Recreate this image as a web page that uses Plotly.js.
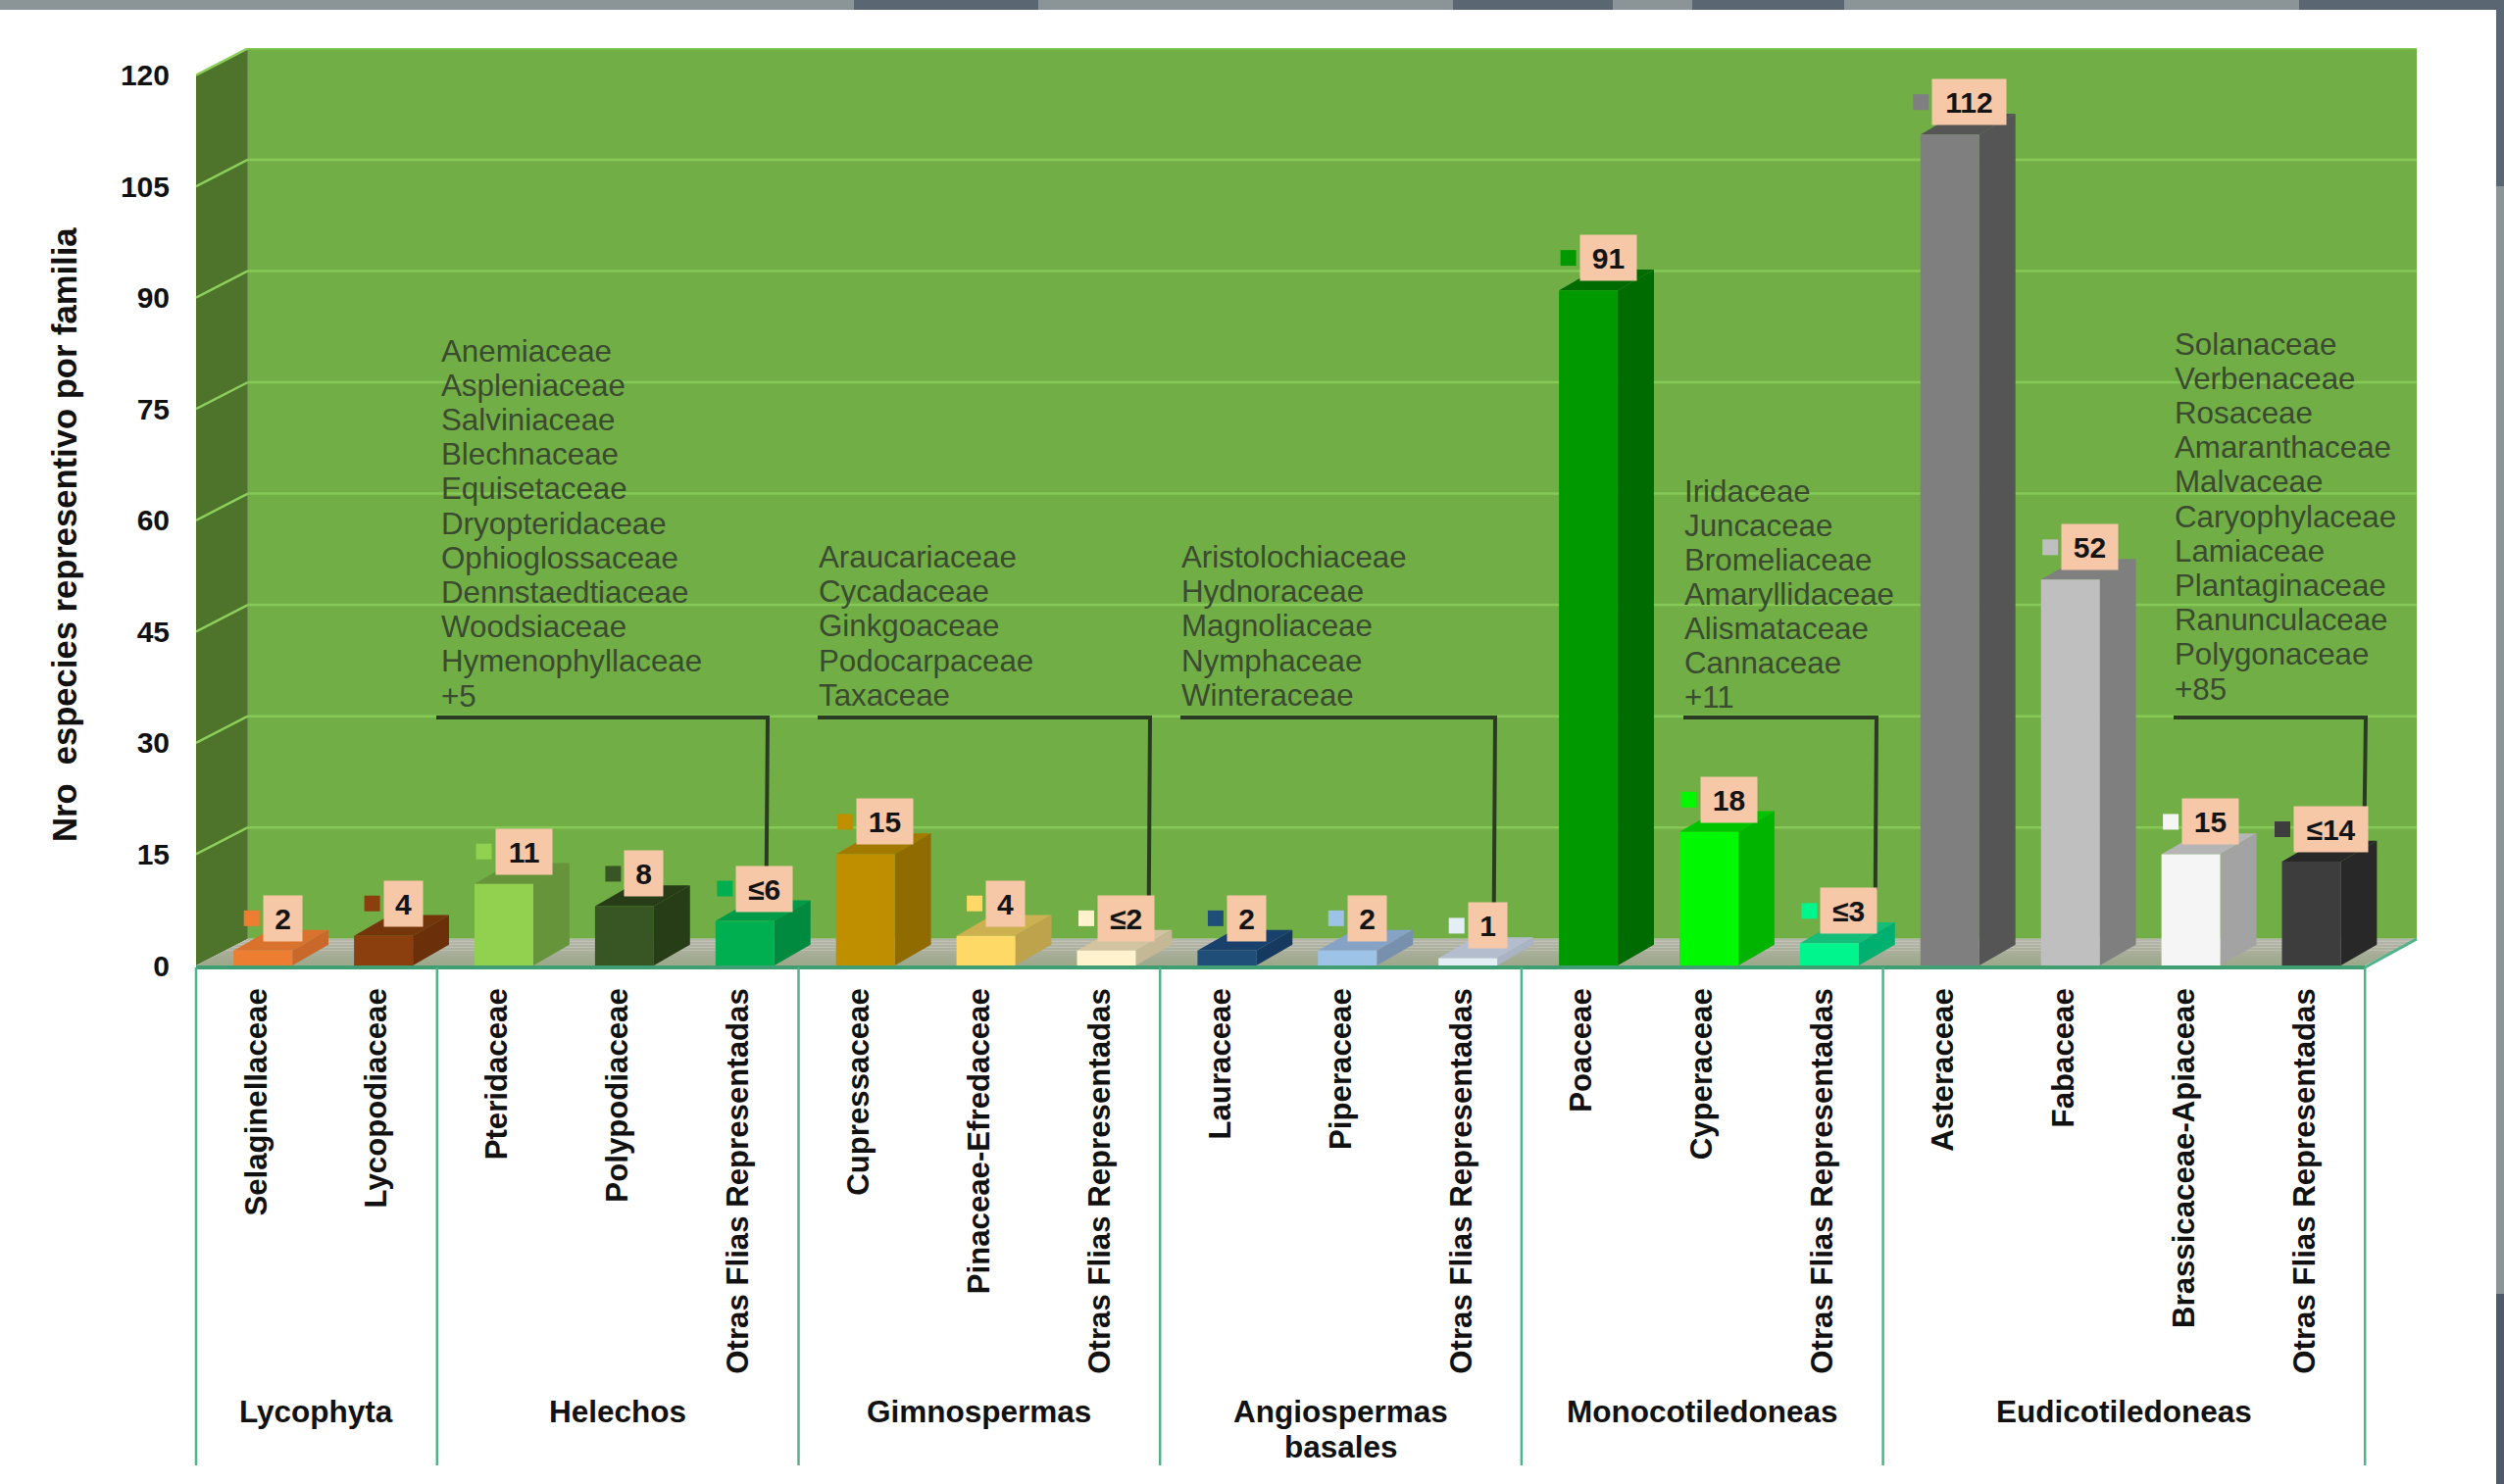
<!DOCTYPE html>
<html>
<head>
<meta charset="utf-8">
<script src="https://cdn.plot.ly/plotly-3.0.1.min.js"></script>
<style>html,body{margin:0;padding:0;background:#fff;overflow:hidden}#chart{width:2554px;height:1514px}</style>
</head>
<body>
<div id="chart"></div>
<script>
// ---- data ----
const families = ["Selaginellaceae","Lycopodiaceae","Pteridaceae","Polypodiaceae","Otras Flias Representadas",
  "Cupressaceae","Pinaceae-Efredaceae","Otras Flias Representadas","Lauraceae","Piperaceae","Otras Flias Representadas",
  "Poaceae","Cyperaceae","Otras Flias Representadas","Asteraceae","Fabaceae","Brassicaceae-Apiaceae","Otras Flias Representadas"];
const values = [2,4,11,8,6,15,4,2,2,2,1,91,18,3,112,52,15,14];
const valueLabels = ["2","4","11","8","≤6","15","4","≤2","2","2","1","91","18","≤3","112","52","15","≤14"];
const frontColors = ["#ed7d31","#8b3e0e","#92d050","#375623","#00b050","#bf8f00","#ffd966","#fff2cc","#1f4e79","#9dc3e6","#e4eef7",
  "#009a00","#00f800","#00f58c","#7f7f7f","#bfbfbf","#f5f5f5","#3d3d3d"];
const sideColors = ["#c9682a","#6b300a","#66943a","#263d18","#008a40","#8f6b00","#bfa34c","#c4b896","#163a5f","#7690ad","#a8b3c4",
  "#006b00","#00b400","#00b070","#555555","#7f7f7f","#a3a3a3","#282828"];
const topColors = ["#d9722c","#75350b","#66943a","#263d18","#009a48","#a37a00","#cdb050","#d2c4a0","#19416b","#86a2c4","#b4bdcd",
  "#006b00","#00c400","#14bd78","#555555","#7f7f7f","#b5b5b5","#282828"];
const yTicks = [0,15,30,45,60,75,90,105,120];
const groups = [["Lycophyta"],["Helechos"],["Gimnospermas"],["Angiospermas","basales"],["Monocotiledoneas"],["Eudicotiledoneas"]];
const groupEdges = [0,2,5,8,11,14,18];
const listFerns = ["Anemiaceae","Aspleniaceae","Salviniaceae","Blechnaceae","Equisetaceae","Dryopteridaceae","Ophioglossaceae","Dennstaedtiaceae","Woodsiaceae","Hymenophyllaceae","+5"];
const listGymno = ["Araucariaceae","Cycadaceae","Ginkgoaceae","Podocarpaceae","Taxaceae"];
const listBasal = ["Aristolochiaceae","Hydnoraceae","Magnoliaceae","Nymphaceae","Winteraceae"];
const listMono = ["Iridaceae","Juncaceae","Bromeliaceae","Amaryllidaceae","Alismataceae","Cannaceae","+11"];
const listEudi = ["Solanaceae","Verbenaceae","Rosaceae","Amaranthaceae","Malvaceae","Caryophylaceae","Lamiaceae","Plantaginaceae","Ranunculaceae","Polygonaceae","+85"];

// ---- layout geometry ----
const W=2554,H=1514, L=200,R=2465,B=985,T=49;
const xUnit=122.9, yUnit=7.57;                 // pixels per axis unit
const xMax=(R-L)/xUnit, yMax=(B-T)/yUnit;
const X=p=>(p-L)/xUnit, Y=p=>(B-p)/yUnit;      // pixel -> axis value
const PX=p=>(p-L)/(R-L), PY=p=>(B-p)/(B-T);    // pixel -> paper fraction
const wallDx=xMax-18, wallDy=3.6;              // wall depth
const barW=0.488, barDx=0.30, barDy=2.8, barOff=0.055;
const FONT='"Liberation Sans", Arial, sans-serif';

const centers=values.map((v,i)=>i+0.5+barOff);
const shapes=[];
const poly=(pts,fill,layer)=>shapes.push({type:'path',xref:'x',yref:'y',layer:layer||'below',
  path:'M'+pts.map(p=>p[0]+','+p[1]).join(' L')+' Z',fillcolor:fill,line:{width:0}});
const seg=(x0,y0,x1,y1,color,w,ref)=>shapes.push({type:'line',xref:ref?'paper':'x',yref:ref?'paper':'y',layer:ref?'above':'below',
  x0,y0,x1,y1,line:{color,width:w}});

// page background around the white panel
const bgGray='#8b9598', bgDark='#5a6772';
const pageRect=(x0,y0,x1,y1,c)=>shapes.push({type:'rect',xref:'paper',yref:'paper',layer:'above',x0:PX(x0),x1:PX(x1),y0:PY(y0),y1:PY(y1),fillcolor:c,line:{width:0}});

// back wall, left wall
poly([[wallDx,wallDy],[xMax,wallDy],[xMax,yMax],[wallDx,yMax]],'#71ae46');
poly([[0,0],[wallDx,wallDy],[wallDx,yMax],[0,120]],'#4e732a');
// floor as graded strips
const floorFront=[156,168,136], floorBack=[182,182,172], strips=9;
for(let s=0;s<strips;s++){
  const a=s/strips,b=(s+1)/strips;
  const c=floorFront.map((v,k)=>Math.round(v+(floorBack[k]-v)*(a+b)/2));
  poly([[wallDx*a,wallDy*a],[18+wallDx*a,wallDy*a],[18+wallDx*b,wallDy*b],[wallDx*b,wallDy*b]],`rgb(${c.join(',')})`);
}
// grid lines on both walls
yTicks.filter(t=>t>0).forEach(t=>{
  seg(0,t,wallDx,t+wallDy,'#8ccf5c',2.5);
  seg(wallDx,t+wallDy,xMax,t+wallDy,'#86c957',2.5);
});
// bar depth faces
values.forEach((v,i)=>{
  const x0=centers[i]-barW/2,x1=centers[i]+barW/2;
  poly([[x0,v],[x1,v],[x1+barDx,v+barDy],[x0+barDx,v+barDy]],topColors[i]);
  poly([[x1,0],[x1+barDx,barDy],[x1+barDx,v+barDy],[x1,v]],sideColors[i]);
});

const annotations=[];
// value boxes
const boxW=t=>21+18*t.length, BOX_H=46, BOX_DX=20, BOX_DY=33;
valueLabels.forEach((t,i)=>annotations.push({xref:'x',yref:'y',x:centers[i],y:values[i],xshift:BOX_DX,yshift:BOX_DY,
  text:t,showarrow:false,width:boxW(t),height:BOX_H,borderpad:0,bgcolor:'#f6c8a8',align:'center',valign:'middle',
  font:{family:FONT,size:30,weight:'bold',color:'#141414'}}));
// key squares next to the boxes
const keyX=valueLabels.map((t,i)=>centers[i]+(BOX_DX-boxW(t)/2-12)/xUnit);
const keyY=values.map(v=>v+BOX_DY/yUnit);

// family lists and their brackets
const lists=[
  {names:listFerns,px:448,top:358,gap:35.2,br:[445,783],bar:4},
  {names:listGymno,px:833,top:568.5,gap:35.2,br:[834,1173],bar:7},
  {names:listBasal,px:1203,top:568.5,gap:35.2,br:[1204,1525],bar:10},
  {names:listMono,px:1716,top:501,gap:35,br:[1717,1914],bar:13},
  {names:listEudi,px:2216,top:351,gap:35.2,br:[2217,2413],bar:17}];
lists.forEach(g=>{
  g.names.forEach((n,k)=>annotations.push({xref:'x',yref:'y',x:X(g.px),y:Y(g.top+k*g.gap),xanchor:'left',yanchor:'middle',
    text:n,showarrow:false,font:{family:FONT,size:31.3,color:'#3a4b30'}}));
  const brY=Y(732), end=values[g.bar]+(BOX_DY+BOX_H/2-2)/yUnit;
  shapes.push({type:'path',xref:'x',yref:'y',layer:'above',
    path:`M${X(g.br[0])},${brY} L${X(g.br[1])},${brY} L${X(g.br[1])-0.01},${end}`,line:{color:'#2b3a22',width:4}});
});

// group table below the axis
const tableGreen='#4fb389';
seg(PX(200),PY(987),PX(2412),PY(987),'#3f9f73',4,true);
seg(PX(2412),PY(987),PX(2465),PY(958),tableGreen,3,true);
groupEdges.forEach(e=>{const px=L+e*xUnit; seg(PX(px),PY(987),PX(px),PY(1495),tableGreen,2.5,true);});
groups.forEach((g,i)=>{
  const mid=L+(groupEdges[i]+groupEdges[i+1])/2*xUnit;
  g.forEach((line,k)=>annotations.push({xref:'paper',yref:'paper',x:PX(mid),y:PY(1440+k*36),xanchor:'center',yanchor:'middle',
    text:line,showarrow:false,font:{family:FONT,size:31.5,weight:'bold',color:'#111'}}));
});
// y title
annotations.push({xref:'paper',yref:'paper',x:PX(66),y:PY(546),xanchor:'center',yanchor:'middle',textangle:-90,showarrow:false,
  text:'Nro\u00a0\u00a0especies representivo por familia',font:{family:FONT,size:34.6,weight:'bold',color:'#111'}});

// surrounding photo visible at the page edges
pageRect(0,0,W,10,bgGray);
[[871,1059],[1482,1645],[1726,1881],[2345,2554]].forEach(r=>pageRect(r[0],0,r[1],10,bgDark));
pageRect(2546,0,W,H,bgGray);
pageRect(2546,0,W,190,bgDark);
pageRect(2546,1320,W,H,'#4e5a68');

const traces=[
  {type:'bar',x:centers,y:values,width:barW,marker:{color:frontColors,line:{width:0}},hoverinfo:'y'},
  {type:'scatter',mode:'markers',x:keyX,y:keyY,marker:{symbol:'square',size:16,color:frontColors,line:{width:0}},hoverinfo:'skip'}
];
const layout={
  width:W,height:H,showlegend:false,paper_bgcolor:'#ffffff',plot_bgcolor:'#ffffff',
  margin:{l:L,r:W-R,t:T,b:H-B,pad:0},
  xaxis:{range:[0,xMax],tickmode:'array',tickvals:families.map((f,i)=>i+0.5),ticktext:families,tickangle:-90,
    showgrid:false,zeroline:false,showline:false,ticks:'',ticklabelstandoff:16,
    tickfont:{family:FONT,size:31.2,weight:'bold',color:'#111'}},
  yaxis:{range:[0,yMax],tickmode:'array',tickvals:yTicks,ticktext:yTicks.map(String),
    showgrid:false,zeroline:false,showline:false,ticks:'',ticklabelstandoff:26,
    tickfont:{family:FONT,size:30,weight:'bold',color:'#111'}},
  shapes,annotations
};
Plotly.newPlot('chart',traces,layout,{displayModeBar:false,staticPlot:true});
</script>
</body>
</html>
